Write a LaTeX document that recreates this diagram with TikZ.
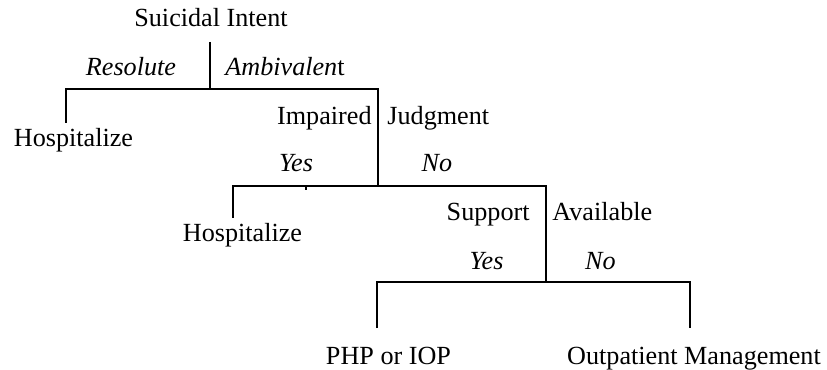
\documentclass[tikz,border=0pt]{standalone}
\usepackage{fontspec}
\setmainfont{Liberation Serif}
\usepackage{tikz}
\usetikzlibrary{positioning,calc}
\definecolor{line}{HTML}{000000}

\begin{document}
\begin{tikzpicture}[x=0.4587pt,y=-0.4587pt,
  lbl/.style={inner sep=0pt,font=\fontsize{12}{14}\selectfont},
  ans/.style={lbl,font=\fontsize{12}{14}\selectfont\itshape},
  edge/.style={line,line width=0.9pt}]
  \useasboundingbox (0,0) rectangle (827,370);

  % questions and their answers
  \node[lbl,anchor=base] (intent) at (211,27) {Suicidal Intent};
  \node[ans,anchor=base] (resolute) at (131,76) {Resolute};
  \node[lbl,anchor=base] (ambivalent) at (285,76) {\textit{Ambivalen}t};
  \node[lbl,anchor=base] (hosp1) at (73.5,147) {Hospitalize};

  \node[lbl,anchor=base east] (impaired) at (372,125) {Impaired};
  \node[lbl,anchor=base west] (judgment) at (387,125) {Judgment};
  \node[ans,anchor=base] (yes1) at (296,172) {Yes};
  \node[ans,anchor=base] (no1) at (437,172) {No};
  \node[lbl,anchor=base] (hosp2) at (242.5,242) {Hospitalize};

  \node[lbl,anchor=base east] (support) at (530,221) {Support};
  \node[lbl,anchor=base west] (available) at (552,221) {Available};
  \node[ans,anchor=base] (yes2) at (486.5,270) {Yes};
  \node[ans,anchor=base] (no2) at (600.5,270) {No};
  \node[lbl,anchor=base] (php) at (388.5,364) {PHP or IOP};
  \node[lbl,anchor=base] (outpt) at (694,364) {Outpatient Management};

  % branch points
  \coordinate (stem) at (210,42);
  \coordinate (fork1) at (210,89);
  \coordinate (left1) at (66,89);
  \coordinate (right1) at (378,89);
  \coordinate (drop1) at (66,123);

  \coordinate (fork2) at (378,186);
  \coordinate (left2) at (233,186);
  \coordinate (right2) at (546,186);
  \coordinate (drop2) at (233,218);
  \coordinate (tick) at (306,186);

  \coordinate (fork3) at (546,282);
  \coordinate (left3) at (377,282);
  \coordinate (right3) at (690,282);
  \coordinate (drop3) at (377,328);
  \coordinate (drop4) at (690,328);

  % tree lines
  \draw[edge] (stem) -- (fork1);
  \draw[edge] (drop1) -- (left1) -- (right1) -- (fork2);
  \draw[edge] (drop2) -- (left2) -- (right2) -- (fork3);
  \draw[edge] (tick) -- ++(0,4);
  \draw[edge] (drop3) -- (left3) -- (right3) -- (drop4);
\end{tikzpicture}
\end{document}
